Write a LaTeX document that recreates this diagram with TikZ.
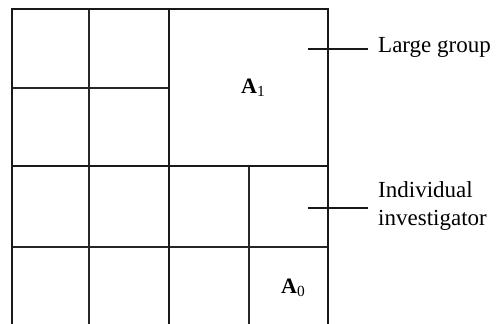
\documentclass[tikz,border=0pt]{standalone}
\usepackage{fontspec}
\setmainfont{Liberation Serif}
\begin{document}
\begin{tikzpicture}[x=1pt,y=-1pt,
  major/.style={line width=2pt,draw=black!90},
  minor/.style={line width=1.5pt,draw=black!85},
  tick/.style={line width=1.6pt,draw=black!90},
  lbl/.style={font=\fontsize{23}{28}\selectfont,anchor=west,inner sep=0pt,align=left},
  area/.style={font=\fontsize{22}{24}\selectfont\bfseries,inner sep=0pt,anchor=base west}]
\useasboundingbox (0,0) rectangle (496,324);
\begin{scope}
\clip (0,0) rectangle (496,324);
% thin subdivisions
\draw[minor] (89,9) -- (89,330);
\draw[minor] (11.5,88) -- (169,88);
\draw[minor] (11.5,247) -- (328,247);
\draw[minor] (249,166) -- (249,330);
% main partition
\draw[major] (11.5,330) -- (11.5,9) -- (328,9) -- (328,330);
\draw[major] (169,9) -- (169,330);
\draw[major] (11.5,166) -- (328,166);
\end{scope}
% area labels
\node[area] (a1) at (241,93) {A\textsubscript{\mdseries 1}};
\node[area] (a0) at (281,293) {A\textsubscript{\mdseries 0}};
% side labels with leader ticks
\node[lbl] (large) at (378,47) {Large group};
\node[lbl] (indiv) at (378,206) {Individual\\investigator};
\coordinate (t1) at (308,49);
\coordinate (t0) at (308,208);
\draw[tick] (t1) -- ([xshift=-10pt]t1 -| large.west);
\draw[tick] (t0) -- ([xshift=-10pt]t0 -| indiv.west);
\end{tikzpicture}
\end{document}
